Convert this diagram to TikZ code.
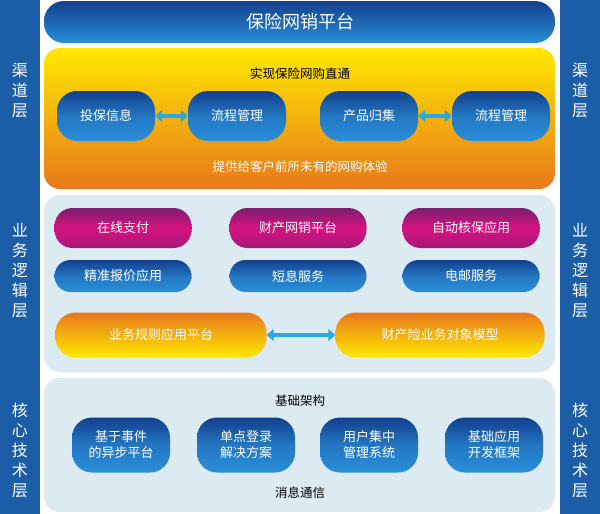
\documentclass[tikz,border=0pt]{standalone}
\usepackage{fontspec}
\setmainfont{Noto Sans CJK SC}
\usetikzlibrary{arrows.meta}
\definecolor{sideblue}{HTML}{1C5DA8}
\definecolor{dblue}{HTML}{123F8C}
\definecolor{lblue}{HTML}{2A8FDA}
\definecolor{panel}{HTML}{DCEBF2}
\definecolor{arrowc}{HTML}{27A9E1}
\definecolor{magt}{HTML}{7A1E6E}
\definecolor{magm}{HTML}{D6137F}
\definecolor{magb}{HTML}{A8177A}
\definecolor{ortop}{HTML}{E8791C}
\definecolor{orbot}{HTML}{FFE800}
\tikzset{
 bluepill/.style={rounded corners=20pt, top color=dblue, bottom color=lblue, middle color=lblue!70!dblue, text=white, font=\fontsize{13}{16}\selectfont, align=center},
 magpill/.style={rounded corners=18pt, top color=magt, bottom color=magb, middle color=magm, text=white, font=\fontsize{13}{16}\selectfont},
 orpill/.style={rounded corners=20pt, top color=ortop, bottom color=orbot, text=white, font=\fontsize{13}{16}\selectfont},
 side/.style={text=white, font=\fontsize{16}{20}\selectfont, align=center},
 dark/.style={text=black, font=\fontsize{12.5}{15}\selectfont},
 dbl/.style={{Triangle[width=12pt,length=7pt]}-{Triangle[width=12pt,length=7pt]}, line width=4pt, draw=arrowc}
}
\begin{document}
\begin{tikzpicture}[x=1pt,y=-1pt]
\useasboundingbox (0,0) rectangle (600,514);
\fill[white] (0,0) rectangle (600,514);
\fill[sideblue] (0,0) rectangle (40,514);
\fill[sideblue] (560,0) rectangle (600,514);
\foreach \x/\n in {20/L,580/R}{
 \node[side] (c1\n) at (\x,90) {渠\\道\\层};
 \node[side] (c2\n) at (\x,271) {业\\务\\逻\\辑\\层};
 \node[side] (c3\n) at (\x,450) {核\\心\\技\\术\\层};
}
% top bar
\shade[rounded corners=20pt, top color=dblue, bottom color=lblue] (44,1) rectangle (555,43);
\node[text=white, font=\fontsize{18}{20}\selectfont] (top) at (300,22) {保险网销平台};
% orange panel
\shade[rounded corners=16pt, top color=orbot, bottom color=ortop] (44,48) rectangle (555,189);
\node[dark] (t1) at (300,74) {实现保险网购直通};
\node[dark, text=white] (t2) at (300,167) {提供给客户前所未有的网购体验};
\node[bluepill, minimum width=98pt, minimum height=50pt] (a1) at (106,116) {投保信息};
\node[bluepill, minimum width=98pt, minimum height=50pt] (a2) at (237,116) {流程管理};
\node[bluepill, minimum width=98pt, minimum height=50pt] (a3) at (369,116) {产品归集};
\node[bluepill, minimum width=98pt, minimum height=50pt] (a4) at (501,116) {流程管理};
\draw[dbl] (a1) -- (a2);
\draw[dbl] (a3) -- (a4);
% business panel
\fill[panel, rounded corners=16pt] (44,195) rectangle (555,372);
\node[magpill, minimum width=137pt, minimum height=40pt] (b1) at (123,228) {在线支付};
\node[magpill, minimum width=137pt, minimum height=40pt] (b2) at (298,228) {财产网销平台};
\node[magpill, minimum width=137pt, minimum height=40pt] (b3) at (471,228) {自动核保应用};
\node[bluepill, rounded corners=16pt, minimum width=137pt, minimum height=32pt] (b4) at (123,276) {精准报价应用};
\node[bluepill, rounded corners=16pt, minimum width=137pt, minimum height=32pt] (b5) at (298,276) {短息服务};
\node[bluepill, rounded corners=16pt, minimum width=137pt, minimum height=32pt] (b6) at (471,276) {电邮服务};
\node[orpill, minimum width=211pt, minimum height=45pt] (b7) at (161,335) {业务规则应用平台};
\node[orpill, minimum width=209pt, minimum height=45pt] (b8) at (440,335) {财产险业务对象模型};
\draw[dbl] (b7) -- (b8);
% core panel
\fill[panel, rounded corners=16pt] (44,378) rectangle (555,512);
\node[dark] (t3) at (300,401) {基础架构};
\node[dark] (t4) at (300,493) {消息通信};
\node[bluepill, minimum width=98pt, minimum height=55pt] (d1) at (121,445) {基于事件\\的异步平台};
\node[bluepill, minimum width=98pt, minimum height=55pt] (d2) at (246,445) {单点登录\\解决方案};
\node[bluepill, minimum width=98pt, minimum height=55pt] (d3) at (369,445) {用户集中\\管理系统};
\node[bluepill, minimum width=98pt, minimum height=55pt] (d4) at (494,445) {基础应用\\开发框架};
\end{tikzpicture}
\end{document}
